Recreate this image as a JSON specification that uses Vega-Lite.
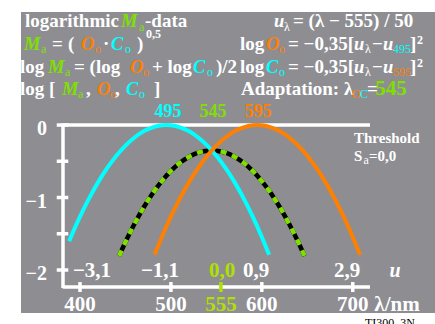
{
  "$schema": "https://vega.github.io/schema/vega-lite/v6.json",
  "width": 414,
  "height": 301,
  "autosize": {"type": "none"},
  "padding": {"left": 21, "top": 12, "right": 0, "bottom": 11},
  "background": "#ffffff",
  "config": {"view": {"fill": "#8e8e92", "stroke": null}},
  "datasets": {
    "curves": [
      {"l": 388, "v": -1.603, "k": "C"}, {"l": 390, "v": -1.5435, "k": "C"}, {"l": 400, "v": -1.2635, "k": "C"}, {"l": 410, "v": -1.0115, "k": "C"}, {"l": 420, "v": -0.7875, "k": "C"}, {"l": 430, "v": -0.5915, "k": "C"}, {"l": 440, "v": -0.4235, "k": "C"}, {"l": 450, "v": -0.2835, "k": "C"}, {"l": 460, "v": -0.1715, "k": "C"}, {"l": 470, "v": -0.0875, "k": "C"}, {"l": 480, "v": -0.0315, "k": "C"}, {"l": 490, "v": -0.0035, "k": "C"}, {"l": 495, "v": 0, "k": "C"}, {"l": 500, "v": -0.0035, "k": "C"}, {"l": 510, "v": -0.0315, "k": "C"}, {"l": 520, "v": -0.0875, "k": "C"}, {"l": 530, "v": -0.1715, "k": "C"}, {"l": 540, "v": -0.2835, "k": "C"}, {"l": 550, "v": -0.4235, "k": "C"}, {"l": 560, "v": -0.5915, "k": "C"}, {"l": 570, "v": -0.7875, "k": "C"}, {"l": 580, "v": -1.0115, "k": "C"}, {"l": 590, "v": -1.2635, "k": "C"}, {"l": 600, "v": -1.5435, "k": "C"}, {"l": 608, "v": -1.788, "k": "C"},
      {"l": 482, "v": -1.788, "k": "O"}, {"l": 490, "v": -1.5435, "k": "O"}, {"l": 500, "v": -1.2635, "k": "O"}, {"l": 510, "v": -1.0115, "k": "O"}, {"l": 520, "v": -0.7875, "k": "O"}, {"l": 530, "v": -0.5915, "k": "O"}, {"l": 540, "v": -0.4235, "k": "O"}, {"l": 550, "v": -0.2835, "k": "O"}, {"l": 560, "v": -0.1715, "k": "O"}, {"l": 570, "v": -0.0875, "k": "O"}, {"l": 580, "v": -0.0315, "k": "O"}, {"l": 590, "v": -0.0035, "k": "O"}, {"l": 595, "v": 0, "k": "O"}, {"l": 600, "v": -0.0035, "k": "O"}, {"l": 610, "v": -0.0315, "k": "O"}, {"l": 620, "v": -0.0875, "k": "O"}, {"l": 630, "v": -0.1715, "k": "O"}, {"l": 640, "v": -0.2835, "k": "O"}, {"l": 650, "v": -0.4235, "k": "O"}, {"l": 660, "v": -0.5915, "k": "O"}, {"l": 670, "v": -0.7875, "k": "O"}, {"l": 680, "v": -1.0115, "k": "O"}, {"l": 690, "v": -1.2635, "k": "O"}, {"l": 700, "v": -1.5435, "k": "O"}, {"l": 708, "v": -1.788, "k": "O"},
      {"l": 443, "v": -1.807, "k": "M"}, {"l": 450, "v": -1.6135, "k": "M"}, {"l": 460, "v": -1.3615, "k": "M"}, {"l": 470, "v": -1.1375, "k": "M"}, {"l": 480, "v": -0.9415, "k": "M"}, {"l": 490, "v": -0.7735, "k": "M"}, {"l": 500, "v": -0.6335, "k": "M"}, {"l": 510, "v": -0.5215, "k": "M"}, {"l": 520, "v": -0.4375, "k": "M"}, {"l": 530, "v": -0.3815, "k": "M"}, {"l": 540, "v": -0.3535, "k": "M"}, {"l": 545, "v": -0.35, "k": "M"}, {"l": 550, "v": -0.3535, "k": "M"}, {"l": 560, "v": -0.3815, "k": "M"}, {"l": 570, "v": -0.4375, "k": "M"}, {"l": 580, "v": -0.5215, "k": "M"}, {"l": 590, "v": -0.6335, "k": "M"}, {"l": 600, "v": -0.7735, "k": "M"}, {"l": 610, "v": -0.9415, "k": "M"}, {"l": 620, "v": -1.1375, "k": "M"}, {"l": 630, "v": -1.3615, "k": "M"}, {"l": 640, "v": -1.6135, "k": "M"}, {"l": 647, "v": -1.807, "k": "M"}
    ],
    "rules": [
      {"l": 381.3, "l2": 381.3, "v": 0.02, "v2": -2.25, "k": "w"},
      {"l": 381.3, "l2": 719, "v": 0, "v2": 0, "k": "w"},
      {"l": 381.3, "l2": 719, "v": -2.234, "v2": -2.234, "k": "w"},
      {"l": 374.4, "l2": 387.1, "v": 0, "v2": 0, "k": "w"},
      {"l": 374.4, "l2": 387.1, "v": -0.5, "v2": -0.5, "k": "w"},
      {"l": 374.4, "l2": 387.1, "v": -1, "v2": -1, "k": "w"},
      {"l": 374.4, "l2": 387.1, "v": -1.5, "v2": -1.5, "k": "w"},
      {"l": 374.4, "l2": 387.1, "v": -2, "v2": -2, "k": "w"},
      {"l": 400, "l2": 400, "v": -2.166, "v2": -2.303, "k": "w"},
      {"l": 500, "l2": 500, "v": -2.166, "v2": -2.303, "k": "w"},
      {"l": 555, "l2": 555, "v": -2.166, "v2": -2.303, "k": "y"},
      {"l": 600, "l2": 600, "v": -2.166, "v2": -2.303, "k": "w"},
      {"l": 700, "l2": 700, "v": -2.166, "v2": -2.303, "k": "w"}
    ],
    "hdr": [
      {"l": 339.5, "v": 1.3517, "t": "logarithmic", "k": "w"},
      {"l": 471.5, "v": 1.3517, "t": "-data", "k": "w"},
      {"l": 369.2, "v": 1.0345, "t": "=", "k": "w"},
      {"l": 386.8, "v": 1.0345, "t": "(", "k": "w"},
      {"l": 425.3, "v": 1.0345, "t": "·", "k": "w"},
      {"l": 462.7, "v": 1.0345, "t": ")", "k": "w"},
      {"l": 334.0, "v": 0.7172, "t": "log", "k": "w"},
      {"l": 393.4, "v": 0.7172, "t": "= (log", "k": "w"},
      {"l": 479.2, "v": 0.7172, "t": "+ log", "k": "w"},
      {"l": 549.6, "v": 0.7172, "t": ")/2", "k": "w"},
      {"l": 334.0, "v": 0.4138, "t": "log [", "k": "w"},
      {"l": 406.6, "v": 0.4138, "t": ",", "k": "w"},
      {"l": 438.5, "v": 0.4138, "t": ",", "k": "w"},
      {"l": 481.4, "v": 0.4138, "t": "]", "k": "w"},
      {"l": 634.3, "v": 1.3517, "t": "= (λ − 555) / 50", "k": "w"},
      {"l": 576.0, "v": 1.0345, "t": "log", "k": "w"},
      {"l": 628.8, "v": 1.0345, "t": "= −0,35[", "k": "w"},
      {"l": 721.2, "v": 1.0345, "t": "−", "k": "w"},
      {"l": 763.0, "v": 1.0345, "t": "]", "k": "w"},
      {"l": 576.0, "v": 0.7172, "t": "log", "k": "w"},
      {"l": 628.8, "v": 0.7172, "t": "= −0,35[", "k": "w"},
      {"l": 721.2, "v": 0.7172, "t": "−", "k": "w"},
      {"l": 763.0, "v": 0.7172, "t": "]", "k": "w"},
      {"l": 577.1, "v": 0.4138, "t": "Adaptation: λ", "k": "w"},
      {"l": 715.7, "v": 0.4138, "t": "=", "k": "w"}
    ],
    "ital": [
      {"l": 445.1, "v": 1.3517, "t": "M", "k": "M"},
      {"l": 338.4, "v": 1.0345, "t": "M", "k": "M"},
      {"l": 401.1, "v": 1.0345, "t": "O", "k": "O"},
      {"l": 434.1, "v": 1.0345, "t": "C", "k": "C"},
      {"l": 364.8, "v": 0.7172, "t": "M", "k": "M"},
      {"l": 455.0, "v": 0.7172, "t": "O", "k": "O"},
      {"l": 524.3, "v": 0.7172, "t": "C", "k": "C"},
      {"l": 380.2, "v": 0.4138, "t": "M", "k": "M"},
      {"l": 418.7, "v": 0.4138, "t": "O", "k": "O"},
      {"l": 450.6, "v": 0.4138, "t": "C", "k": "C"},
      {"l": 613.4, "v": 1.3517, "t": "u", "k": "w"},
      {"l": 604.6, "v": 1.0345, "t": "O", "k": "O"},
      {"l": 701.4, "v": 1.0345, "t": "u", "k": "w"},
      {"l": 733.3, "v": 1.0345, "t": "u", "k": "w"},
      {"l": 604.6, "v": 0.7172, "t": "C", "k": "C"},
      {"l": 701.4, "v": 0.7172, "t": "u", "k": "w"},
      {"l": 733.3, "v": 0.7172, "t": "u", "k": "w"}
    ],
    "sub": [
      {"l": 464.9, "v": 1.2966, "t": "a", "k": "M"},
      {"l": 357.1, "v": 0.9931, "t": "a", "k": "M"},
      {"l": 416.5, "v": 0.9931, "t": "o", "k": "O"},
      {"l": 449.5, "v": 0.9931, "t": "o", "k": "C"},
      {"l": 383.5, "v": 0.6759, "t": "a", "k": "M"},
      {"l": 469.3, "v": 0.6759, "t": "o", "k": "O"},
      {"l": 539.7, "v": 0.6759, "t": "o", "k": "C"},
      {"l": 397.8, "v": 0.3724, "t": "a", "k": "M"},
      {"l": 432.9, "v": 0.3724, "t": "o", "k": "O"},
      {"l": 464.9, "v": 0.3724, "t": "o", "k": "C"},
      {"l": 624.4, "v": 1.2966, "t": "λ", "k": "w"},
      {"l": 618.9, "v": 0.9931, "t": "o", "k": "O"},
      {"l": 713.5, "v": 0.9931, "t": "λ", "k": "w"},
      {"l": 744.3, "v": 0.9931, "t": "495", "k": "C"},
      {"l": 618.9, "v": 0.6759, "t": "o", "k": "C"},
      {"l": 713.5, "v": 0.6759, "t": "λ", "k": "w"},
      {"l": 744.3, "v": 0.6759, "t": "595", "k": "O"},
      {"l": 699.2, "v": 0.3724, "t": "O", "k": "O"},
      {"l": 708.0, "v": 0.3724, "t": "C", "k": "C"},
      {"l": 711.9, "v": -0.5379, "t": "a", "k": "w"}
    ],
    "sup": [
      {"l": 472.6, "v": 1.2, "t": "0,5", "k": "w"},
      {"l": 770.7, "v": 1.1172, "t": "2", "k": "w"},
      {"l": 770.7, "v": 0.8, "t": "2", "k": "w"}
    ],
    "peaks": [
      {"l": 496.8, "v": 0.1103, "t": "495", "k": "C"},
      {"l": 546.3, "v": 0.1103, "t": "545", "k": "M"},
      {"l": 595.8, "v": 0.1103, "t": "595", "k": "O"}
    ],
    "ulab": [
      {"l": 413.2, "v": -2.0966, "t": "−3,1", "k": "w"},
      {"l": 488.0, "v": -2.0966, "t": "−1,1", "k": "w"},
      {"l": 556.2, "v": -2.0966, "t": "0,0", "k": "y"},
      {"l": 593.6, "v": -2.0966, "t": "0,9", "k": "w"},
      {"l": 693.7, "v": -2.0966, "t": "2,9", "k": "w"},
      {"l": 742.0, "v": 0.4138, "t": "545", "k": "M"}
    ],
    "uital": [
      {"l": 746.5, "v": -2.0966, "t": "u", "k": "w"}
    ],
    "xlab": [
      {"l": 400, "v": -2.5655, "t": "400", "k": "w"},
      {"l": 500, "v": -2.5655, "t": "500", "k": "w"},
      {"l": 555, "v": -2.5655, "t": "555", "k": "y"},
      {"l": 600, "v": -2.5655, "t": "600", "k": "w"},
      {"l": 700, "v": -2.5655, "t": "700", "k": "w"},
      {"l": 748.7, "v": -2.5655, "t": "λ/nm", "k": "w"}
    ],
    "ylab": [
      {"l": 363.7, "v": -0.1379, "t": "0", "k": "w"},
      {"l": 363.7, "v": -1.1448, "t": "−1", "k": "w"},
      {"l": 363.7, "v": -2.1379, "t": "−2", "k": "w"}
    ],
    "thr": [
      {"l": 701.4, "v": -0.2483, "t": "Threshold", "k": "w"},
      {"l": 701.4, "v": -0.4966, "t": "S", "k": "w"},
      {"l": 717.9, "v": -0.4966, "t": "=0,0", "k": "w"}
    ],
    "foot": [
      {"l": 713.5, "v": -2.7862, "t": "TI300_3N", "k": "k"}
    ]
  },
  "encoding": {
    "x": {"field": "l", "type": "quantitative", "scale": {"domain": [335.1, 790.5], "nice": false, "zero": false}, "axis": null},
    "y": {"field": "v", "type": "quantitative", "scale": {"domain": [-2.593, 1.559], "nice": false, "zero": false}, "axis": null},
    "color": {"field": "k", "type": "nominal", "scale": {"domain": ["w", "M", "O", "C", "y", "k"], "range": ["#ffffff", "#7fe000", "#ff8000", "#00ffff", "#b0e000", "#000000"]}, "legend": null}
  },
  "layer": [
    {
      "data": {"name": "rules"},
      "mark": {"type": "rule", "strokeWidth": 3.5},
      "encoding": {"x2": {"field": "l2"}, "y2": {"field": "v2"}}
    },
    {
      "data": {"name": "curves"},
      "transform": [{"filter": "datum.k === 'M'"}],
      "mark": {"type": "line", "strokeWidth": 4.5, "interpolate": "monotone", "color": "#000000"},
      "encoding": {"color": {"value": "#000000"}}
    },
    {
      "data": {"name": "curves"},
      "transform": [{"filter": "datum.k === 'M'"}],
      "mark": {"type": "line", "strokeWidth": 4.5, "interpolate": "monotone", "strokeDash": [6, 6]}
    },
    {
      "data": {"name": "curves"},
      "transform": [{"filter": "datum.k !== 'M'"}],
      "mark": {"type": "line", "strokeWidth": 4, "interpolate": "monotone"}
    },
    {
      "data": {"name": "hdr"},
      "mark": {"type": "text", "align": "left", "baseline": "alphabetic", "font": "Liberation Serif", "fontWeight": "bold", "fontSize": 19},
      "encoding": {"text": {"field": "t"}}
    },
    {
      "data": {"name": "ital"},
      "mark": {"type": "text", "align": "left", "baseline": "alphabetic", "font": "Liberation Serif", "fontWeight": "bold", "fontStyle": "italic", "fontSize": 18.5},
      "encoding": {"text": {"field": "t"}}
    },
    {
      "data": {"name": "sub"},
      "mark": {"type": "text", "align": "left", "baseline": "alphabetic", "font": "Liberation Serif", "fontWeight": "normal", "fontSize": 12},
      "encoding": {"text": {"field": "t"}}
    },
    {
      "data": {"name": "sup"},
      "mark": {"type": "text", "align": "left", "baseline": "alphabetic", "font": "Liberation Serif", "fontWeight": "bold", "fontSize": 12},
      "encoding": {"text": {"field": "t"}}
    },
    {
      "data": {"name": "peaks"},
      "mark": {"type": "text", "align": "center", "baseline": "alphabetic", "font": "Liberation Serif", "fontWeight": "bold", "fontSize": 18},
      "encoding": {"text": {"field": "t"}}
    },
    {
      "data": {"name": "ulab"},
      "mark": {"type": "text", "align": "center", "baseline": "alphabetic", "font": "Liberation Serif", "fontWeight": "bold", "fontSize": 21},
      "encoding": {"text": {"field": "t"}}
    },
    {
      "data": {"name": "uital"},
      "mark": {"type": "text", "align": "center", "baseline": "alphabetic", "font": "Liberation Serif", "fontWeight": "bold", "fontStyle": "italic", "fontSize": 20},
      "encoding": {"text": {"field": "t"}}
    },
    {
      "data": {"name": "xlab"},
      "mark": {"type": "text", "align": "center", "baseline": "alphabetic", "font": "Liberation Serif", "fontWeight": "bold", "fontSize": 21},
      "encoding": {"text": {"field": "t"}}
    },
    {
      "data": {"name": "ylab"},
      "mark": {"type": "text", "align": "right", "baseline": "alphabetic", "font": "Liberation Serif", "fontWeight": "bold", "fontSize": 20},
      "encoding": {"text": {"field": "t"}}
    },
    {
      "data": {"name": "thr"},
      "mark": {"type": "text", "align": "left", "baseline": "alphabetic", "font": "Liberation Serif", "fontWeight": "bold", "fontSize": 15},
      "encoding": {"text": {"field": "t"}}
    },
    {
      "data": {"name": "foot"},
      "mark": {"type": "text", "align": "left", "baseline": "alphabetic", "font": "Liberation Serif", "fontWeight": "normal", "fontSize": 12},
      "encoding": {"text": {"field": "t"}}
    }
  ]
}
